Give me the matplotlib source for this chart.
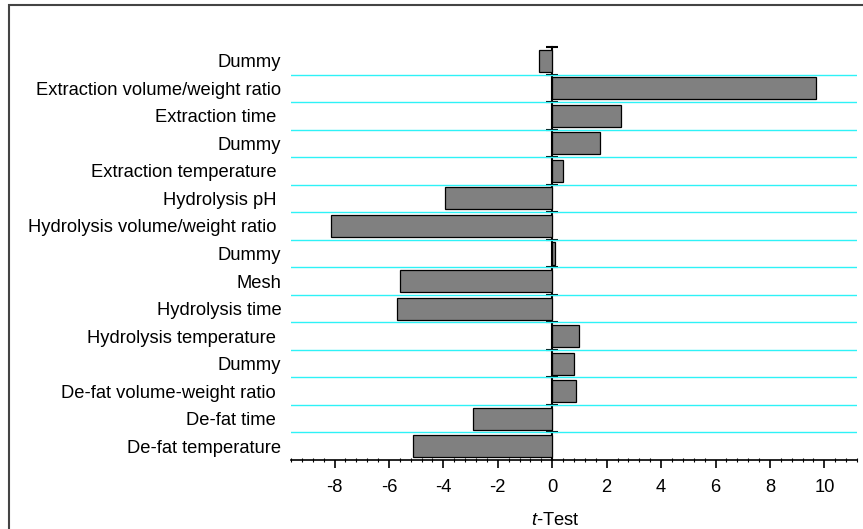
import numpy as np
import matplotlib
matplotlib.use('Agg')
import matplotlib.pyplot as plt
import matplotlib.patches as patches
from matplotlib.ticker import MultipleLocator

plt.rcParams['font.family'] = 'Liberation Sans'
plt.rcParams['mathtext.fontset'] = 'custom'
plt.rcParams['mathtext.it'] = 'Liberation Sans:italic'
plt.rcParams['mathtext.rm'] = 'Liberation Sans'

# factors, top to bottom
factors = ['Dummy', 'Extraction volume/weight ratio', 'Extraction time ',
           'Dummy', 'Extraction temperature ', 'Hydrolysis pH ',
           'Hydrolysis volume/weight ratio ', 'Dummy', 'Mesh',
           'Hydrolysis time', 'Hydrolysis temperature ', 'Dummy',
           'De-fat volume-weight ratio ', 'De-fat time ', 'De-fat temperature']
t_values = [-0.5, 9.7, 2.53, 1.76, 0.38, -3.95,
            -8.13, 0.1, -5.6, -5.7, 1.0, 0.8,
            0.88, -2.9, -5.1]
xticks = [-8, -6, -4, -2, 0, 2, 4, 6, 8, 10]

n = len(factors)
ypos = np.arange(n)
xmin, xmax = -9.6, 11.2
fs = 13.2

fig = plt.figure(figsize=(8.63, 5.29), dpi=100)
ax = fig.add_axes([291/863, 1-460/529, (857-291)/863, (460-47)/529])

# cyan separators between rows
for b in np.arange(0.5, n-1, 1.0):
    ax.axhline(b, color='#2ef2f7', lw=1.0, zorder=1)

ax.barh(ypos, t_values, height=0.8, color='#808080',
        edgecolor='black', linewidth=0.9, zorder=2)

ax.set_xlim(xmin, xmax)
ax.set_ylim(n-0.5, -0.5)

for s in ['top', 'right', 'left']:
    ax.spines[s].set_visible(False)
ax.spines['bottom'].set_linewidth(1.2)

ax.set_yticks(ypos)
ax.set_yticklabels(factors, fontsize=fs)
ax.tick_params(axis='y', length=0, pad=7)

ax.set_xticks(xticks)
ax.set_xticklabels([str(v) for v in xticks], fontsize=fs)
ax.xaxis.set_minor_locator(MultipleLocator(0.4))
ax.tick_params(axis='x', which='major', direction='out', length=6,
               width=1.2, pad=8)
ax.tick_params(axis='x', which='minor', direction='inout', length=3,
               width=0.8)

# y axis drawn through zero
loc0 = (0 - xmin) / (xmax - xmin)
sec = ax.secondary_yaxis(loc0)
sec.spines['left'].set_linewidth(1.5)
sec.set_yticks(np.arange(-0.5, n-1, 1.0))
sec.set_yticklabels([])
sec.tick_params(axis='y', direction='inout', length=9, width=1.5)

ax.set_xlabel(r'$t$-Test', fontsize=fs)
ax.xaxis.set_label_coords(loc0 + 0.005, -0.125)

# outer frame
fig.patches.append(patches.Rectangle((9/863, -0.1), 1.2, 1.1 - 5/529,
                                     transform=fig.transFigure,
                                     fill=False, edgecolor='#444444',
                                     lw=1.5))

fig.savefig('out.png', dpi=100)
